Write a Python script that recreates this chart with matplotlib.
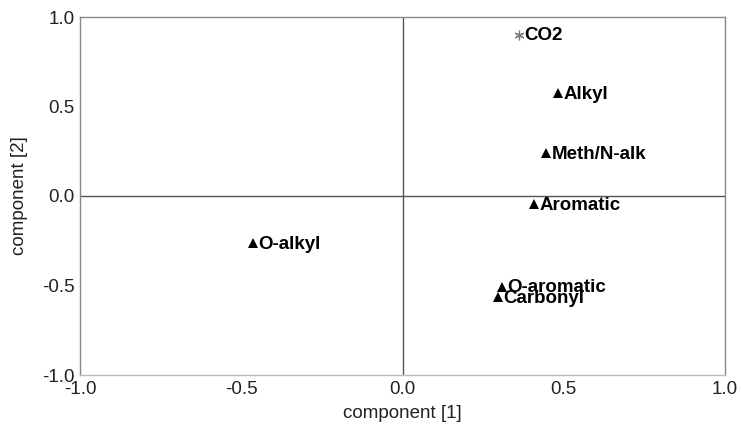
import matplotlib.pyplot as plt

plt.rcParams['font.family'] = ['Liberation Sans', 'DejaVu Sans']

# loadings
labels = ['CO2', 'Alkyl', 'Meth/N-alk', 'Aromatic', 'O-alkyl', 'O-aromatic', 'Carbonyl']
comp1 = [0.361, 0.482, 0.445, 0.408, -0.464, 0.309, 0.296]
comp2 = [0.900, 0.575, 0.240, -0.045, -0.263, -0.508, -0.564]
markers = ['*', '^', '^', '^', '^', '^', '^']
ticks = [-1.0, -0.5, 0.0, 0.5, 1.0]

fig = plt.figure(figsize=(7.41, 4.47), dpi=100)
ax = fig.add_axes([80 / 741, 1 - 375 / 447, 645 / 741, 358 / 447])

ax.axhline(0, color='#555555', lw=1.0, zorder=1)
ax.axvline(0, color='#555555', lw=1.0, zorder=1)

for x, y, m, lab in zip(comp1, comp2, markers, labels):
    if m == '*':
        ax.plot(x, y, marker=(6, 2, 0), ms=7, color='#777777', mew=0.9,
                zorder=3)
    else:
        ax.plot(x, y, marker='^', ms=7, color='black', mew=0, zorder=3)
    ax.annotate(lab, (x, y), xytext=(4, -4), textcoords='offset points',
                fontsize=13.5, fontweight='bold', ha='left', va='baseline')

ax.set_xlim(-1.0, 1.0)
ax.set_ylim(-1.0, 1.0)
ax.set_xticks(ticks)
ax.set_yticks(ticks)
ax.set_xticklabels([f'{t:.1f}' for t in ticks])
ax.set_yticklabels([f'{t:.1f}' for t in ticks])
ax.tick_params(length=0, labelsize=13.5, colors='#222222', pad=4)
for s in ax.spines.values():
    s.set_color('#888888')
    s.set_linewidth(1.0)
ax.spines['bottom'].set_color('#bbbbbb')

ax.set_xlabel('component [1]', fontsize=13.5, color='#222222', labelpad=5)
ax.set_ylabel('component [2]', fontsize=13.5, color='#222222', labelpad=10)

fig.savefig('out.png', dpi=100)
